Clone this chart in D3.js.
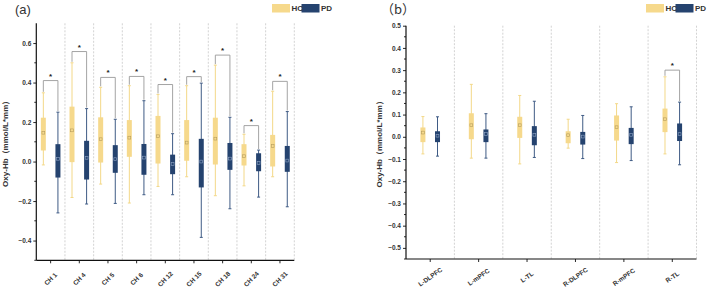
<!DOCTYPE html>
<html>
<head>
<meta charset="utf-8">
<script src="https://cdn.jsdelivr.net/npm/d3@7"></script>
<style>
  body { margin: 0; background: #fff; }
  svg { display: block; font-family: "Liberation Sans", Arial, sans-serif; }
</style>
</head>
<body>
<svg id="chart" width="708" height="289"></svg>
<script>
// panel (a) channels, each box: [whiskerLow, q1, mean, q3, whiskerHigh]
let channels = ['CH 1', 'CH 4', 'CH 5', 'CH 6', 'CH 12', 'CH 15', 'CH 18', 'CH 24', 'CH 31'];
let hcA = [
    [-0.017, 0.056, 0.146, 0.222, 0.348],
    [-0.182, -0.003, 0.158, 0.278, 0.500],
    [-0.114, -0.005, 0.113, 0.224, 0.376],
    [-0.210, 0.024, 0.121, 0.210, 0.384],
    [-0.126, -0.010, 0.128, 0.231, 0.340],
    [-0.077, 0.004, 0.096, 0.210, 0.384],
    [-0.173, -0.015, 0.116, 0.222, 0.488],
    [-0.123, -0.020, 0.027, 0.088, 0.138],
    [-0.077, -0.025, 0.079, 0.135, 0.356]
];
let pdA = [
    [-0.260, -0.081, 0.014, 0.088, 0.250],
    [-0.215, -0.091, 0.019, 0.105, 0.268],
    [-0.212, -0.057, 0.012, 0.083, 0.214],
    [-0.168, -0.067, 0.020, 0.089, 0.308],
    [-0.168, -0.064, -0.012, 0.035, 0.141],
    [-0.384, -0.131, 0.000, 0.115, 0.397],
    [-0.239, -0.042, 0.015, 0.094, 0.224],
    [-0.180, -0.049, -0.007, 0.042, 0.058],
    [-0.229, -0.052, 0.005, 0.079, 0.253]
];
let sigA = [0.41, 0.557, 0.426, 0.431, 0.39, 0.43, 0.539, 0.182, 0.406];
let ticksA = [-0.4, -0.2, 0.0, 0.2, 0.4, 0.6];
let minorA = [-0.5, -0.3, -0.1, 0.1, 0.3, 0.5];

// panel (b) regions
let regions = ['L-DLPFC', 'L-mPFC', 'L-TL', 'R-DLPFC', 'R-mPFC', 'R-TL'];
let hcB = [
    [-0.077, -0.024, 0.019, 0.042, 0.091],
    [-0.096, -0.011, 0.052, 0.106, 0.236],
    [-0.122, -0.005, 0.052, 0.090, 0.186],
    [-0.051, -0.029, 0.007, 0.025, 0.079],
    [-0.116, -0.017, 0.043, 0.096, 0.149],
    [-0.077, 0.021, 0.079, 0.127, 0.270]
];
let pdB = [
    [-0.087, -0.024, 0.005, 0.025, 0.090],
    [-0.096, -0.024, 0.013, 0.033, 0.104],
    [-0.093, -0.038, 0.009, 0.048, 0.160],
    [-0.098, -0.035, 0.001, 0.022, 0.096],
    [-0.107, -0.033, 0.009, 0.040, 0.135],
    [-0.126, -0.019, 0.012, 0.060, 0.156]
];
let sigB = [null, null, null, null, null, 0.30];
let ticksB = [-0.5, -0.4, -0.3, -0.2, -0.1, 0.0, 0.1, 0.2, 0.3, 0.4, 0.5];
let minorB = [-0.55, -0.45, -0.35, -0.25, -0.15, -0.05, 0.05, 0.15, 0.25, 0.35, 0.45];

let groups = ['HC', 'PD'];

let hcFill = '#f6d98c', hcLine = '#f3d888', hcMean = '#b59c5c';
let pdFill = '#25436f', pdLine = '#3f5b85', pdMean = '#8ea3c4';

let svg = d3.select('#chart');

function drawPanel(cfg) {
    let g = svg.append('g');

    let y = d3.scaleLinear().domain(cfg.yDomain).range([cfg.bottom, cfg.top]);
    let x = d3.scaleBand().domain(cfg.cats).range([cfg.left, cfg.right]).padding(0);
    let bw = x.bandwidth();
    let off = 7.3, boxW = 5, capW = 3;

    // dashed separators
    g.selectAll('.sep')
        .data(cfg.cats)
        .enter().append('line')
        .attr('x1', d => x(d) + bw).attr('x2', d => x(d) + bw)
        .attr('y1', cfg.top).attr('y2', cfg.bottom)
        .style('stroke', '#c8c8c8')
        .style('stroke-width', 0.8)
        .style('stroke-dasharray', '2,1.5');

    // y axis
    let yAxis = d3.axisLeft(y)
        .tickValues(cfg.ticks)
        .tickSize(3)
        .tickPadding(2)
        .tickFormat(d3.format('.1f'));
    let ya = g.append('g')
        .attr('transform', `translate(${cfg.left}, 0)`)
        .call(yAxis);
    ya.select('.domain').attr('d', `M0,${cfg.top}V${cfg.bottom}`);
    ya.append('g').selectAll('line')
        .data(cfg.minor)
        .enter().append('line')
        .attr('x1', -2).attr('x2', 0)
        .attr('y1', d => y(d)).attr('y2', d => y(d))
        .style('stroke', '#000');

    // x axis
    let xAxis = d3.axisBottom(x).tickSize(3).tickFormat('');
    let xa = g.append('g')
        .attr('transform', `translate(0, ${cfg.bottom})`)
        .call(xAxis);
    xa.select('.domain').attr('d', `M${cfg.left},0H${cfg.right}`);

    [ya, xa].forEach(a => {
        a.selectAll('.domain').style('stroke', '#111').style('stroke-width', 1.2);
        a.selectAll('line').style('stroke', '#111').style('stroke-width', 0.9);
        a.selectAll('text')
            .style('font-size', '6.5px')
            .style('font-weight', 'bold')
            .style('fill', '#333');
    });

    // rotated category labels
    g.selectAll('.xlab')
        .data(cfg.cats)
        .enter().append('text')
        .attr('transform', d => `translate(${x(d) + bw / 2}, ${cfg.labelY}) rotate(${cfg.rot})`)
        .attr('text-anchor', 'middle')
        .attr('dy', '0.35em')
        .style('font-size', '6.5px')
        .style('font-weight', 'bold')
        .style('fill', '#333')
        .text(d => d);

    // boxes
    let sets = [
        {vals: cfg.hc, dx: -off, fill: hcFill, line: hcLine, mean: hcMean},
        {vals: cfg.pd, dx: off, fill: pdFill, line: pdLine, mean: pdMean}
    ];
    sets.forEach(s => {
        let bg = g.append('g').selectAll('g')
            .data(s.vals)
            .enter().append('g')
            .attr('transform', (d, i) => `translate(${x(cfg.cats[i]) + bw / 2 + s.dx}, 0)`);
        bg.append('line')
            .attr('x1', 0).attr('x2', 0)
            .attr('y1', d => y(d[0])).attr('y2', d => y(d[4]))
            .style('stroke', s.line).style('stroke-width', 1);
        bg.append('line')
            .attr('x1', -capW / 2).attr('x2', capW / 2)
            .attr('y1', d => y(d[0])).attr('y2', d => y(d[0]))
            .style('stroke', s.line).style('stroke-width', 1);
        bg.append('line')
            .attr('x1', -capW / 2).attr('x2', capW / 2)
            .attr('y1', d => y(d[4])).attr('y2', d => y(d[4]))
            .style('stroke', s.line).style('stroke-width', 1);
        bg.append('rect')
            .attr('x', -boxW / 2).attr('width', boxW)
            .attr('y', d => y(d[3]))
            .attr('height', d => y(d[1]) - y(d[3]))
            .style('fill', s.fill);
        bg.append('rect')
            .attr('x', -1.4).attr('width', 2.8)
            .attr('y', d => y(d[2]) - 1.4).attr('height', 2.8)
            .style('fill', 'none')
            .style('stroke', s.mean)
            .style('stroke-width', 0.6);
    });

    // significance brackets
    cfg.cats.forEach((c, i) => {
        let top = cfg.sig[i];
        if (top == null) return;
        let cx = x(c) + bw / 2;
        let yt = y(top);
        g.append('path')
            .attr('d', `M${cx - off},${y(cfg.hc[i][4]) - 1}V${yt}H${cx + off}V${y(cfg.pd[i][4]) - 1}`)
            .style('fill', 'none')
            .style('stroke', '#9a9a9a')
            .style('stroke-width', 0.9);
        g.append('text')
            .attr('x', cx).attr('y', yt - 2)
            .attr('text-anchor', 'middle')
            .style('font-size', '8px')
            .style('font-weight', 'bold')
            .style('fill', '#222')
            .text('*');
    });

    // y axis title
    g.append('text')
        .attr('transform', `translate(${cfg.titleX}, ${(cfg.top + cfg.bottom) / 2}) rotate(-90)`)
        .attr('text-anchor', 'middle')
        .attr('dy', '0.35em')
        .style('font-size', '8px')
        .style('font-weight', 'bold')
        .style('fill', '#333')
        .text('Oxy-Hb（mmol/L*mm）');

    // panel letter
    g.append('text')
        .attr('x', cfg.letterX).attr('y', 14)
        .style('font-size', '13px')
        .style('fill', '#333')
        .style('font-family', cfg.letterFont)
        .text(cfg.letter);

    // legend
    let lg = g.append('g').attr('transform', `translate(${cfg.legendX}, 4)`);
    groups.forEach((k, i) => {
        lg.append('rect')
            .attr('x', i * 29.5).attr('y', 0)
            .attr('width', 18).attr('height', 8.5)
            .style('fill', i == 0 ? hcFill : pdFill);
    });
    groups.forEach((k, i) => {
        lg.append('text')
            .attr('x', i * 29.5 + 19.5).attr('y', 4.5)
            .attr('dy', '0.35em')
            .style('font-size', '8px')
            .style('font-weight', 'bold')
            .style('fill', '#333')
            .text(k);
    });
}

drawPanel({
    cats: channels, hc: hcA, pd: pdA, sig: sigA,
    ticks: ticksA, minor: minorA, yDomain: [-0.5, 0.7],
    left: 36.3, right: 294.3, top: 23.3, bottom: 260.3,
    labelY: 279, rot: -45, titleX: 5,
    letter: '(a)', letterX: 15, letterFont: '"Liberation Sans", Arial, sans-serif',
    legendX: 272
});

drawPanel({
    cats: regions, hc: hcB, pd: pdB, sig: sigB,
    ticks: ticksB, minor: minorB, yDomain: [-0.55, 0.5],
    left: 406, right: 696.5, top: 25.7, bottom: 259,
    labelY: 277, rot: -35, titleX: 379,
    letter: '（b）', letterX: 381, letterFont: '"Noto Sans CJK SC", sans-serif',
    legendX: 646
});
</script>
</body>
</html>
